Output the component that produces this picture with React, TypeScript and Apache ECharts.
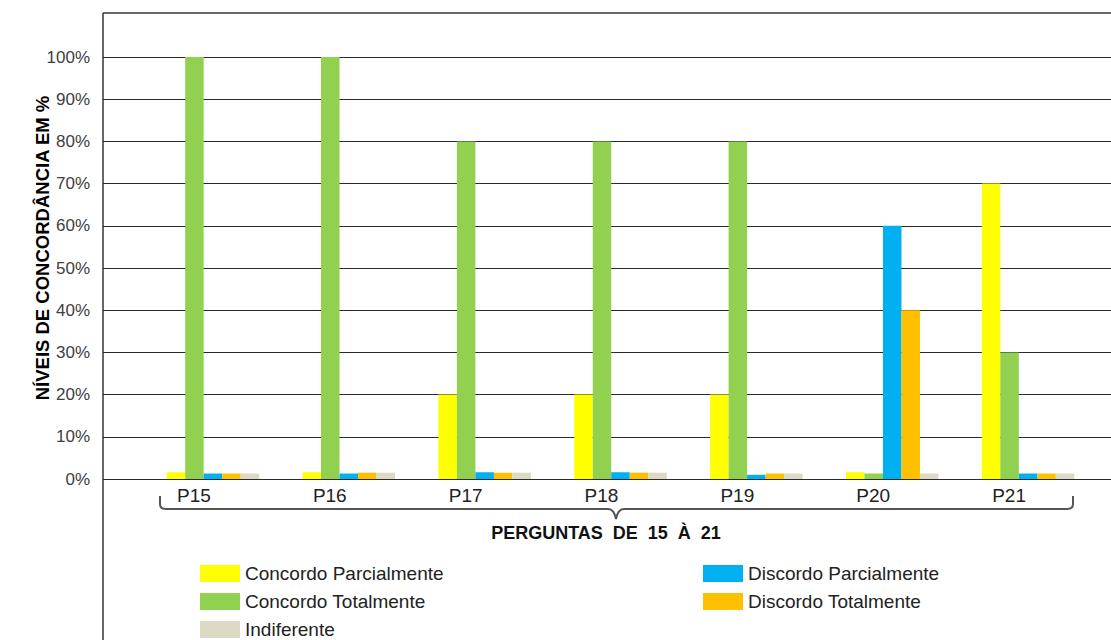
import React, { useEffect, useRef } from "react";
import * as echarts from "echarts";

const categories = ["P15", "P16", "P17", "P18", "P19", "P20", "P21"];
const yTicks = [0, 10, 20, 30, 40, 50, 60, 70, 80, 90, 100];

const concordoParcialmente = [1.6, 1.6, 20, 20, 20, 1.6, 70];
const concordoTotalmente = [100, 100, 80, 80, 80, 1.3, 30];
const discordoParcialmente = [1.3, 1.3, 1.6, 1.6, 1.0, 60, 1.3];
const discordoTotalmente = [1.3, 1.5, 1.5, 1.5, 1.3, 40, 1.3];
const indiferente = [1.3, 1.5, 1.5, 1.5, 1.3, 1.3, 1.3];

const seriesNames = [
  "Concordo Parcialmente",
  "Concordo Totalmente",
  "Discordo Parcialmente",
  "Discordo Totalmente",
  "Indiferente",
];
const seriesColors = ["#FFFF00", "#92D050", "#00B0F0", "#FFC000", "#DDD9C4"];
const seriesData = [
  concordoParcialmente,
  concordoTotalmente,
  discordoParcialmente,
  discordoTotalmente,
  indiferente,
];

const FONT = "'Liberation Sans', Arial, sans-serif";

// curly brace grouping the question labels
const BRACE_D =
  "M160,496 L160,504 Q160,509 166,509 L608,509 Q614,509 616,519 Q618,509 624,509 L1067,509 Q1073,509 1073,504 L1073,496";
echarts.graphic.registerShape("brace", echarts.graphic.extendPath(BRACE_D, {}));

export default function App() {
  const ref = useRef<HTMLDivElement>(null);

  useEffect(() => {
    if (!ref.current) return;
    const chart = echarts.init(ref.current, null, { renderer: "svg" });

    const legendText = { color: "#222", fontFamily: FONT, fontSize: 19 };
    const legendBase = {
      orient: "vertical",
      top: 564,
      height: 120,
      padding: 0,
      itemWidth: 40,
      itemHeight: 17,
      itemGap: 9,
      icon: "rect",
      textStyle: legendText,
    };

    const option: any = {
      animation: false,
      backgroundColor: "#ffffff",
      grid: [
        { left: 103, right: 0, top: 57, bottom: 161 },
        { left: 145, right: 15, top: 57, bottom: 161 },
      ],
      xAxis: [
        { type: "value", gridIndex: 0, show: false, min: 0, max: 1 },
        {
          type: "category",
          gridIndex: 1,
          data: categories,
          axisLine: { show: false },
          axisTick: { show: false },
          axisLabel: {
            color: "#222",
            fontFamily: FONT,
            fontSize: 19,
            margin: 7,
            padding: [0, 38, 0, 0],
          },
        },
      ],
      yAxis: [
        {
          type: "value",
          gridIndex: 0,
          min: 0,
          max: 100,
          interval: 10,
          axisLine: { show: false },
          axisTick: { show: false },
          axisLabel: {
            formatter: (v: number) => (yTicks.includes(v) ? `${v}%` : ""),
            color: "#404040",
            fontFamily: FONT,
            fontSize: 17,
            margin: 13,
          },
          splitLine: { lineStyle: { color: "#2a2a2a", width: 1 } },
        },
        {
          type: "value",
          gridIndex: 1,
          min: 0,
          max: 100,
          show: false,
        },
      ],
      legend: [
        {
          ...legendBase,
          data: [seriesNames[0], seriesNames[1], seriesNames[4]],
          left: 200,
        },
        {
          ...legendBase,
          data: [seriesNames[2], seriesNames[3]],
          left: 703,
        },
      ],
      series: seriesNames.map((name, i) => ({
        name,
        type: "bar",
        xAxisIndex: 1,
        yAxisIndex: 1,
        data: seriesData[i],
        barWidth: 18.5,
        barGap: "0%",
        itemStyle: { color: seriesColors[i] },
      })),
      graphic: [
        {
          type: "line",
          shape: { x1: 103, y1: 13, x2: 1111, y2: 13 },
          style: { stroke: "#333", lineWidth: 1.5 },
        },
        {
          type: "line",
          shape: { x1: 103, y1: 13, x2: 103, y2: 640 },
          style: { stroke: "#333", lineWidth: 1.5 },
        },
        {
          type: "brace",
          x: 0,
          y: 0,
          style: { stroke: "#555", lineWidth: 2, fill: null },
        },
        {
          type: "text",
          x: 42,
          y: 248,
          rotation: Math.PI / 2,
          style: {
            text: "NÍVEIS DE CONCORDÂNCIA EM %",
            fill: "#000",
            font: `bold 18.5px ${FONT}`,
            textAlign: "center",
            textVerticalAlign: "middle",
          },
        },
        {
          type: "text",
          x: 606,
          y: 533,
          style: {
            text: "PERGUNTAS  DE  15  À  21",
            fill: "#111",
            font: `bold 18px ${FONT}`,
            textAlign: "center",
            textVerticalAlign: "middle",
          },
        },
      ],
    };

    chart.setOption(option);
    return () => chart.dispose();
  }, []);

  return (
    <div
      ref={ref}
      style={{ position: "fixed", left: 0, top: 0, width: 1111, height: 640 }}
    />
  );
}
